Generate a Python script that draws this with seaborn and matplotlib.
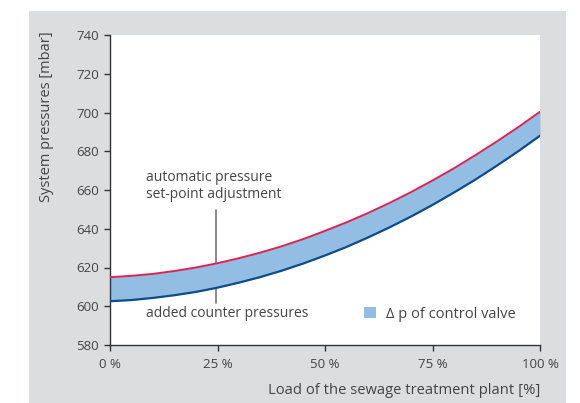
import matplotlib
matplotlib.use("Agg")
import matplotlib.pyplot as plt
import numpy as np
import pandas as pd
import seaborn as sns
from matplotlib.patches import Patch, Rectangle

# load in percent, pressures in mbar
load = [0, 5, 10, 15, 20, 25, 30, 35, 40, 45, 50, 55, 60, 65, 70, 75, 80, 85, 90, 95, 100]
upper = [615.0, 615.7, 616.7, 618.2, 620.0, 622.2, 624.8, 627.7, 631.0, 634.7, 638.9,
         643.3, 648.1, 653.3, 658.9, 664.9, 671.2, 678.0, 685.1, 692.5, 700.4]
lower = [602.6, 603.2, 604.3, 605.7, 607.4, 609.6, 612.2, 615.1, 618.4, 622.1, 626.2,
         630.6, 635.5, 640.7, 646.3, 652.3, 658.7, 665.4, 672.6, 680.1, 688.0]
x_ticks = [0, 25, 50, 75, 100]
x_ticklabels = ['0 %', '25 %', '50 %', '75 %', '100 %']
y_ticks = [580, 600, 620, 640, 660, 680, 700, 720, 740]

RED = '#e2204f'
BLUE = '#0a4d8c'
FILL = '#94bde3'
GREY_BG = '#dcdddf'
TXT = '#444444'

sns.set_style('ticks')
plt.rcParams['font.family'] = ['Open Sans', 'DejaVu Sans']

df = pd.DataFrame({'load': load, 'upper': upper, 'lower': lower})

fig = plt.figure(figsize=(5.8, 4.03), dpi=100)
fig.patch.set_facecolor('white')
fig.add_artist(Rectangle((29 / 580, 0), (566 - 29) / 580, (403 - 11) / 403,
                         transform=fig.transFigure, facecolor=GREY_BG, edgecolor='none', zorder=0))

ax = fig.add_axes([110 / 580, 58 / 403, 430 / 580, 310 / 403])
ax.set_facecolor('white')

ax.fill_between(df['load'], df['lower'], df['upper'], color=FILL, linewidth=0, zorder=1)
sns.lineplot(data=df, x='load', y='upper', color=RED, linewidth=1.4, ax=ax, zorder=3)
sns.lineplot(data=df, x='load', y='lower', color=BLUE, linewidth=1.6, ax=ax, zorder=3)

ax.set_xlim(0, 100)
ax.set_ylim(580, 740)
ax.set_xticks(x_ticks)
ax.set_xticklabels(x_ticklabels)
ax.set_yticks(y_ticks)
ax.spines['top'].set_visible(False)
ax.spines['right'].set_visible(False)
for s in ('left', 'bottom'):
    ax.spines[s].set_color('#333333')
    ax.spines[s].set_linewidth(1.0)
ax.tick_params(axis='both', length=4, width=1, color='#333333', labelcolor=TXT, labelsize=9.5, pad=4)
ax.tick_params(axis='x', pad=5)
ax.set_xlabel('')
ax.set_ylabel('')

fig.text(540 / 580, 1 - 391 / 403, 'Load of the sewage treatment plant [%]', ha='right', va='center',
         fontsize=10.6, color=TXT)
fig.text(47 / 580, 1 - 31 / 403, 'System pressures [mbar]', rotation=90, ha='center', va='top',
         fontsize=10.5, color=TXT)

# annotations
ax.text(8.4, 662, 'automatic pressure\nset-point adjustment', ha='left', va='center',
        fontsize=10, color=TXT, linespacing=1.15)
ax.plot([24.7, 24.7], [622.2, 649.7], color='#777777', linewidth=1.2, zorder=0.5)
ax.plot([24.7, 24.7], [601.7, 609.6], color='#777777', linewidth=1.2, zorder=0.5)
ax.text(8.4, 596.5, 'added counter pressures', ha='left', va='center', fontsize=10, color=TXT)

leg = ax.legend(handles=[Patch(facecolor=FILL, edgecolor='none', label='\u0394 p of control valve')],
                loc='center left', bbox_to_anchor=(0.56, 0.1), frameon=False,
                handlelength=0.8, handleheight=0.8, handletextpad=0.7,
                prop={'size': 10.5})
for t in leg.get_texts():
    t.set_color(TXT)

fig.savefig('out.png', dpi=100, facecolor=fig.get_facecolor())
